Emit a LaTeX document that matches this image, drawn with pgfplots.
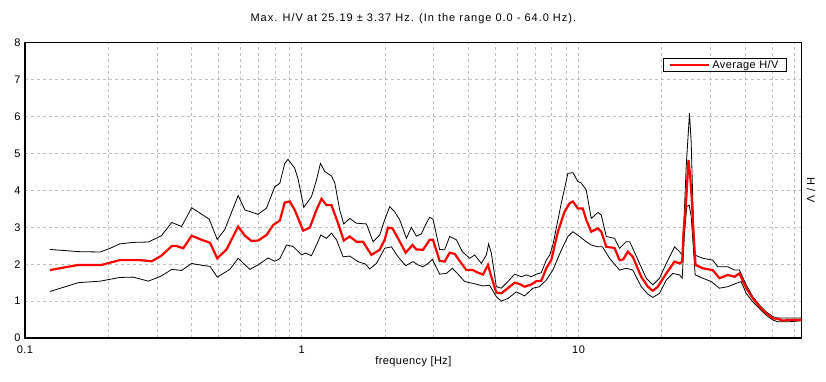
\documentclass[border=0pt]{standalone}
\usepackage{fontspec}
\setmainfont{Liberation Sans}[LetterSpace=4]
\usepackage{pgfplots}
\pgfplotsset{compat=1.18}

\pgfplotstableread{
f y
0.123 1.84
0.156 1.98
0.189 1.98
0.220 2.11
0.260 2.11
0.287 2.08
0.311 2.23
0.339 2.49
0.353 2.49
0.373 2.43
0.400 2.77
0.435 2.66
0.466 2.58
0.495 2.16
0.535 2.40
0.589 3.02
0.623 2.77
0.658 2.63
0.695 2.64
0.746 2.79
0.788 3.06
0.833 3.18
0.868 3.67
0.905 3.70
0.943 3.47
1.011 2.91
1.069 2.99
1.130 3.47
1.178 3.77
1.228 3.60
1.280 3.60
1.352 3.11
1.418 2.64
1.490 2.75
1.576 2.61
1.664 2.61
1.785 2.25
1.912 2.39
1.993 2.66
2.049 2.99
2.126 2.97
2.227 2.70
2.374 2.31
2.510 2.52
2.594 2.40
2.741 2.39
2.898 2.66
2.979 2.66
3.148 2.09
3.282 2.07
3.422 2.31
3.568 2.28
3.718 2.09
3.932 1.84
4.154 1.84
4.331 1.77
4.515 1.72
4.706 1.98
4.840 1.66
5.045 1.23
5.260 1.21
5.556 1.35
5.875 1.50
6.124 1.46
6.383 1.39
6.749 1.45
7.036 1.54
7.334 1.55
7.645 1.89
7.970 2.11
8.420 2.88
8.900 3.42
9.280 3.65
9.540 3.70
9.940 3.51
10.36 3.51
10.66 3.20
11.11 2.88
11.74 2.97
12.08 2.88
12.59 2.47
13.49 2.44
14.06 2.11
14.50 2.13
15.07 2.34
15.70 2.20
16.84 1.66
17.79 1.39
18.55 1.28
19.33 1.39
20.74 1.75
22.22 2.07
23.16 2.02
23.68 2.07
23.93 2.84
24.48 3.74
24.95 4.82
25.30 4.40
25.65 3.74
26.02 2.84
26.46 1.98
28.10 1.89
30.53 1.84
32.28 1.62
34.59 1.71
36.58 1.66
38.13 1.75
40.31 1.35
42.59 1.08
45.03 0.85
47.61 0.67
50.29 0.53
52.43 0.52
54.65 0.47
57.78 0.49
64.00 0.49
}\avgtab

\pgfplotstableread{
f y
0.123 2.40
0.156 2.34
0.187 2.33
0.203 2.43
0.220 2.55
0.246 2.59
0.279 2.60
0.311 2.77
0.339 3.13
0.368 3.02
0.400 3.53
0.463 3.22
0.495 2.67
0.527 2.94
0.589 3.86
0.623 3.47
0.695 3.35
0.746 3.52
0.799 4.10
0.833 4.19
0.868 4.73
0.892 4.84
0.943 4.60
0.970 4.30
1.017 3.54
1.084 3.83
1.130 4.28
1.168 4.73
1.211 4.51
1.280 4.39
1.316 4.20
1.371 3.47
1.418 3.09
1.490 3.24
1.576 3.11
1.712 3.09
1.809 2.61
1.912 2.79
1.993 3.20
2.078 3.56
2.166 3.42
2.259 3.20
2.388 2.70
2.489 3.00
2.594 2.76
2.705 2.82
2.819 3.11
2.898 3.27
2.979 3.22
3.148 2.40
3.282 2.39
3.422 2.75
3.619 2.66
3.800 2.34
4.042 2.16
4.213 2.25
4.454 2.02
4.643 2.25
4.732 2.55
4.840 2.30
5.045 1.39
5.260 1.35
5.556 1.53
5.875 1.73
6.210 1.66
6.476 1.71
6.749 1.66
7.036 1.73
7.334 1.77
7.645 2.11
7.859 2.24
8.076 2.52
8.660 3.65
9.150 4.46
9.540 4.48
9.940 4.24
10.22 4.20
10.66 4.01
11.11 3.24
11.74 3.40
12.08 3.33
12.59 2.75
13.49 2.70
14.06 2.43
14.87 2.61
15.30 2.61
16.61 2.02
17.56 1.62
18.55 1.44
19.61 1.62
20.74 2.02
22.22 2.47
23.16 2.34
23.68 2.25
23.93 2.84
24.48 4.64
25.16 6.09
25.52 5.30
25.86 3.74
26.24 2.25
28.10 2.16
30.53 2.11
31.83 1.93
34.59 1.93
36.58 1.84
38.13 1.84
40.31 1.44
42.59 1.12
45.03 0.89
47.61 0.71
50.29 0.58
52.43 0.54
57.78 0.54
64.00 0.54
}\uptab

\pgfplotstableread{
f y
0.123 1.26
0.156 1.50
0.187 1.54
0.220 1.64
0.246 1.65
0.279 1.54
0.311 1.68
0.339 1.86
0.368 1.83
0.400 2.02
0.435 1.97
0.466 1.94
0.495 1.65
0.550 1.86
0.589 2.16
0.649 1.86
0.695 1.98
0.756 2.17
0.799 2.08
0.833 2.15
0.881 2.52
0.930 2.48
0.998 2.25
1.030 2.30
1.084 2.23
1.130 2.52
1.171 2.79
1.228 2.70
1.280 2.84
1.335 2.66
1.410 2.20
1.490 2.22
1.597 2.07
1.700 2.00
1.760 1.87
1.861 2.02
1.993 2.43
2.108 2.47
2.227 2.20
2.374 1.96
2.523 2.07
2.630 1.98
2.741 1.93
2.858 2.02
2.964 2.13
3.148 1.73
3.331 1.75
3.500 1.89
3.667 1.73
3.877 1.53
4.154 1.48
4.515 1.41
4.771 1.43
5.045 1.12
5.260 1.00
5.556 1.07
5.957 1.25
6.383 1.14
6.840 1.35
7.230 1.39
7.645 1.57
8.076 1.84
8.660 2.38
9.150 2.75
9.540 2.88
10.08 2.75
10.66 2.61
11.11 2.52
11.74 2.47
12.20 2.47
12.94 2.16
14.06 1.84
14.87 1.89
15.70 1.84
16.84 1.39
17.79 1.19
18.55 1.10
19.61 1.21
20.74 1.57
21.90 1.75
23.16 1.71
23.68 1.62
24.14 2.84
24.60 3.56
25.09 3.60
25.52 3.30
25.86 2.66
26.38 1.71
28.10 1.62
30.13 1.53
32.28 1.35
34.59 1.39
37.10 1.48
38.68 1.53
40.31 1.21
42.59 0.98
45.03 0.80
47.61 0.62
50.29 0.49
52.43 0.44
57.78 0.44
64.00 0.47
}\lowtab

\definecolor{gridgray}{RGB}{192,192,192}

\begin{document}
\begin{tikzpicture}[font=\fontsize{11}{13}\selectfont]
\path[use as bounding box] (-25pt,-43pt) rectangle (801pt,338pt);
\begin{axis}[
  at={(0pt,0pt)}, anchor=south west,
  scale only axis, width=776.7pt, height=295.3pt,
  xmode=log, xmin=0.1, xmax=64, ymin=0, ymax=8,
  xtick={0.1,1,10}, xticklabels={0.1,1,10},
  minor xtick={0.2,0.3,0.4,0.5,0.6,0.7,0.8,0.9,2,3,4,5,6,7,8,9,20,30,40,50,60},
  ytick={0,1,2,3,4,5,6,7,8},
  /pgf/number format/assume math mode=true,
  grid=both,
  major grid style={gridgray, line width=0.8pt, dash pattern=on 3pt off 3pt},
  minor grid style={gridgray, line width=0.8pt, dash pattern=on 3pt off 3pt},
  major tick length=0pt, minor tick length=0pt,
  axis line style={black, line width=1.2pt},
  xticklabel style={anchor=base, yshift=-15pt},
  yticklabel style={anchor=east, xshift=-1pt},
  title={\addfontfeature{LetterSpace=9}Max. H/V at 25.19 ± 3.37 Hz. (In the range 0.0 - 64.0 Hz).},
  every axis title shift=0pt,
  title style={at={(0.5,1)}, anchor=base, yshift=21pt},
  xlabel={frequency [Hz]},
  xlabel style={at={(0.5,0)}, anchor=base, yshift=-26pt},
  legend style={at={(1,1)}, anchor=north east, xshift=-14.7pt, yshift=-15.3pt,
    draw=black, line width=1pt, inner xsep=6pt, inner ysep=0pt,
    font=\fontsize{11}{12}\selectfont, cells={anchor=west}},
  legend image code/.code={\path (0pt,0pt) -- (39pt,0pt); \draw[#1] (0pt,0pt) -- (33pt,0pt);},
]
\addplot[black, line width=0.8pt, forget plot] table[x=f, y=y] {\uptab};
\addplot[black, line width=0.8pt, forget plot] table[x=f, y=y] {\lowtab};
\addplot[red, line width=2.2pt] table[x=f, y=y] {\avgtab};
\addlegendentry{Average H/V}
\end{axis}
\node[rotate=-90, anchor=center] at (786pt,148pt) {H / V};
\end{tikzpicture}
\end{document}
